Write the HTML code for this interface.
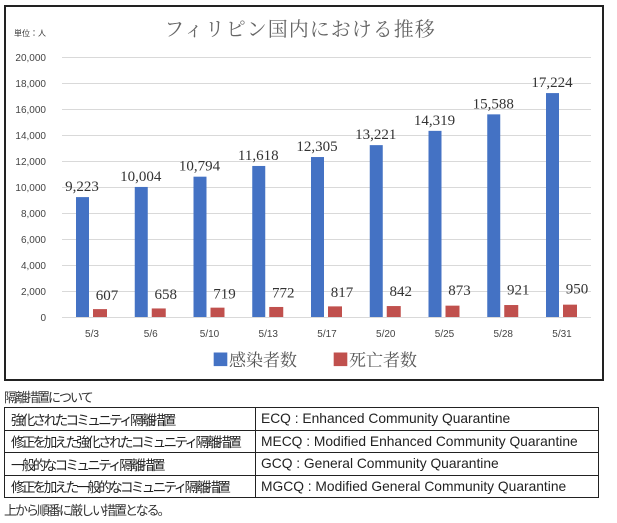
<!DOCTYPE html>
<html><head><meta charset="utf-8"><style>
body{margin:0;background:#fff;width:617px;height:523px;overflow:hidden;font-family:"Liberation Sans","Noto Sans CJK JP",sans-serif}
.box{position:absolute;left:4px;top:5px;width:600px;height:376px;border:2px solid #222;box-sizing:border-box}
table{position:absolute;left:4px;top:407px;width:595px;border-collapse:collapse;table-layout:fixed;color:#222}
td{border:1px solid #222;height:21.5px;padding:0 0 0 6px;white-space:nowrap;overflow:hidden}
td.j{font-size:13.5px;letter-spacing:-2.6px;width:244px}
td.e{font-size:13.8px;padding-left:5px}
</style></head><body>
<div class="box"></div>
<svg width="617" height="390" style="position:absolute;left:0;top:0" font-family="Liberation Serif, Noto Serif CJK SC, serif">
<text x="300" y="36" font-size="20" fill="#666" text-anchor="middle" font-family="Noto Serif CJK SC, serif" letter-spacing="1">フィリピン国内における推移</text>
<text x="14" y="36" font-size="8" fill="#333" font-family="Noto Sans CJK JP, sans-serif">単位：人</text>
<g stroke="#d9d9d9" stroke-width="1">
<line x1="62" x2="591" y1="57.5" y2="57.5"/><line x1="62" x2="591" y1="83.5" y2="83.5"/><line x1="62" x2="591" y1="109.5" y2="109.5"/><line x1="62" x2="591" y1="135.5" y2="135.5"/><line x1="62" x2="591" y1="161.5" y2="161.5"/><line x1="62" x2="591" y1="187.5" y2="187.5"/><line x1="62" x2="591" y1="213.5" y2="213.5"/><line x1="62" x2="591" y1="239.5" y2="239.5"/><line x1="62" x2="591" y1="265.5" y2="265.5"/><line x1="62" x2="591" y1="291.5" y2="291.5"/><line x1="62" x2="591" y1="317.5" y2="317.5"/>
</g>
<g font-family="Liberation Sans, sans-serif" font-size="10" fill="#444" text-anchor="end">
<text x="46" y="61">20,000</text><text x="46" y="87">18,000</text><text x="46" y="113">16,000</text><text x="46" y="139">14,000</text><text x="46" y="165">12,000</text><text x="46" y="191">10,000</text><text x="46" y="217">8,000</text><text x="46" y="243">6,000</text><text x="46" y="269">4,000</text><text x="46" y="295">2,000</text><text x="46" y="321">0</text>
</g>
<g id="bars"></g>
<text x="212" y="366" font-size="17" fill="#555" font-family="Noto Serif CJK SC, serif"><tspan fill="#4472c4">■</tspan>感染者数</text>
<text x="332" y="366" font-size="17" fill="#555" font-family="Noto Serif CJK SC, serif"><tspan fill="#c0504d">■</tspan>死亡者数</text>
</svg>
<div style="position:absolute;left:4px;top:387px;font-size:13px;letter-spacing:-2px;color:#333">隔離措置について</div>
<table>
<tr><td class="j">強化されたコミュニティ隔離措置</td><td class="e">ECQ : Enhanced Community Quarantine</td></tr>
<tr><td class="j">修正を加えた強化されたコミュニティ隔離措置</td><td class="e">MECQ : Modified Enhanced Community Quarantine</td></tr>
<tr><td class="j">一般的なコミュニティ隔離措置</td><td class="e">GCQ : General Community Quarantine</td></tr>
<tr><td class="j">修正を加えた一般的なコミュニティ隔離措置</td><td class="e">MGCQ : Modified General Community Quarantine</td></tr>
</table>
<div style="position:absolute;left:4px;top:500px;font-size:13px;letter-spacing:-2px;color:#333">上から順番に厳しい措置となる。</div>
<script>
var d=[["5/3",9223,607],["5/6",10004,658],["5/10",10794,719],["5/13",11618,772],["5/17",12305,817],["5/20",13221,842],["5/25",14319,873],["5/28",15588,921],["5/31",17224,950]];
var s="";d.forEach(function(r,i){var c=92+i*58.75;var hb=r[1]*0.013,hr=r[2]*0.013;
s+='<rect x="'+(c-16)+'" y="'+(317-hb)+'" width="13" height="'+hb+'" fill="#4472c4"/>';
s+='<rect x="'+(c+1)+'" y="'+(317-hr)+'" width="14" height="'+hr+'" fill="#c0504d"/>';
s+='<text x="'+(c-10)+'" y="'+(311-hb)+'" font-size="15" fill="#333" text-anchor="middle">'+r[1].toLocaleString("en-US")+'</text>';
s+='<text x="'+(c+15)+'" y="'+(300-i*0.8)+'" font-size="15" fill="#333" text-anchor="middle">'+r[2]+'</text>';
s+='<text x="'+c+'" y="337" font-size="10" fill="#444" font-family="Liberation Sans, sans-serif" text-anchor="middle">'+r[0]+'</text>';});
document.getElementById("bars").innerHTML=s;
</script>
</body></html>
